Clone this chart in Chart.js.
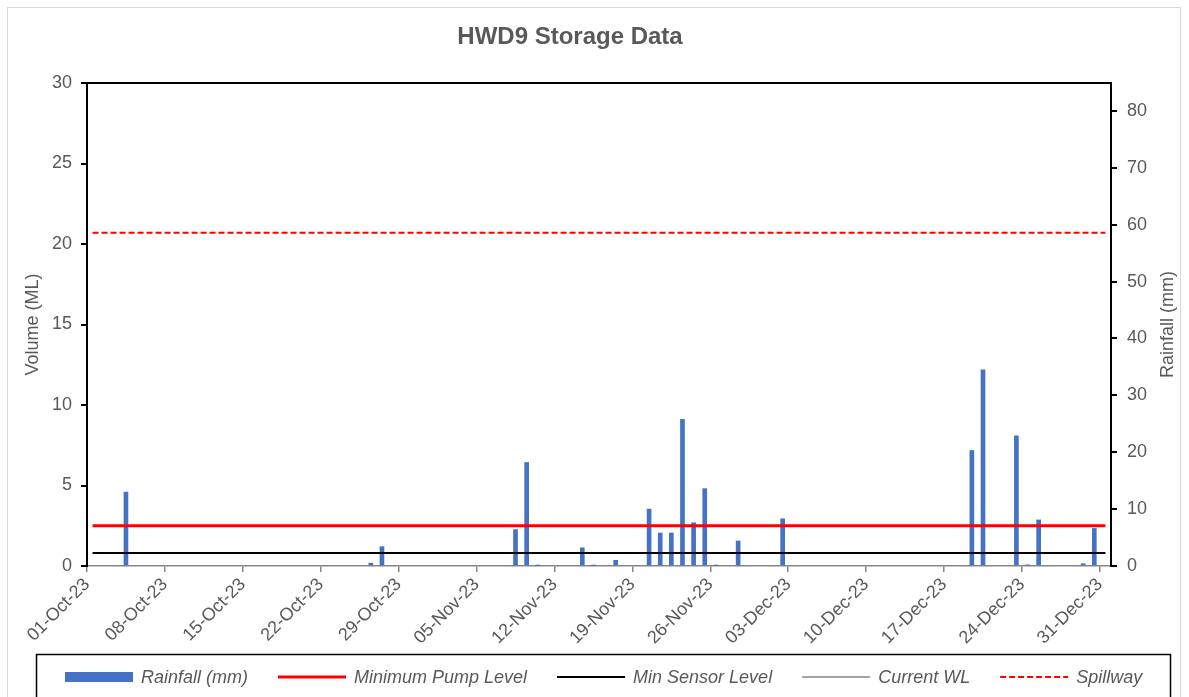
<!DOCTYPE html>
<html>
<head>
<meta charset="utf-8">
<title>HWD9 Storage Data</title>
<script src="https://cdn.jsdelivr.net/npm/chart.js@4.4.0/dist/chart.umd.min.js"></script>
<style>
  html, body { margin: 0; padding: 0; background: #fff; }
  #wrap { width: 1189px; height: 697px; }
</style>
</head>
<body>
<div id="wrap"><canvas id="myChart" width="1189" height="697"></canvas></div>
<script>
// --- data ---
const startDate = '2023-10-01';
const dayCount = 92;
const xTickLabels = ['01-Oct-23', '08-Oct-23', '15-Oct-23', '22-Oct-23', '29-Oct-23', '05-Nov-23', '12-Nov-23',
  '19-Nov-23', '26-Nov-23', '03-Dec-23', '10-Dec-23', '17-Dec-23', '24-Dec-23', '31-Dec-23'];

const rainDates = ['2023-10-04', '2023-10-26', '2023-10-27', '2023-11-08', '2023-11-09', '2023-11-10',
  '2023-11-14', '2023-11-15', '2023-11-17', '2023-11-20', '2023-11-21', '2023-11-22', '2023-11-23',
  '2023-11-24', '2023-11-25', '2023-11-26', '2023-11-28', '2023-12-02', '2023-12-19', '2023-12-20',
  '2023-12-23', '2023-12-24', '2023-12-25', '2023-12-29', '2023-12-30'];
const rainMm = [13.0, 0.5, 3.4, 6.4, 18.2, 0.1,
  3.2, 0.1, 1.0, 10.0, 5.8, 5.8, 25.8,
  7.6, 13.6, 0.1, 4.4, 8.3, 20.3, 34.5,
  22.9, 0.2, 8.1, 0.4, 6.6];

const pumpLevel = 2.5;     // ML
const sensorLevel = 0.8;   // ML
const spillwayLevel = 20.7; // ML
const currentWL = [];      // no readings shown

const volumeMax = 30;
const rainMax = 84.9;

const textGrey = '#595959';
const font = "'Liberation Sans', Arial, sans-serif";

function dayIndex(d) {
  return (Date.parse(d) - Date.parse(startDate)) / 86400000;
}
function levelLine(v) {
  return [{x: 0.5, y: v}, {x: dayCount - 0.5, y: v}];
}

const rainPoints = rainDates.map((d, i) => ({x: dayIndex(d) + 0.5, y: rainMm[i]}));

// title, frames, right axis title and legend drawn by hand to follow the Excel layout
const decor = {
  id: 'decor',
  beforeDraw(chart) {
    const ctx = chart.ctx;
    ctx.save();
    ctx.strokeStyle = '#d9d9d9';
    ctx.lineWidth = 1;
    ctx.strokeRect(7.5, 7.5, 1173, 700);
    ctx.restore();
  },
  afterDatasetsDraw(chart) {
    const ctx = chart.ctx;
    const a = chart.chartArea;
    ctx.save();
    ctx.strokeStyle = '#000';
    ctx.lineWidth = 2;
    ctx.beginPath();
    ctx.moveTo(a.left, a.top);
    ctx.lineTo(a.right, a.top);
    ctx.stroke();
    ctx.restore();
  },
  afterDraw(chart) {
    const ctx = chart.ctx;
    const a = chart.chartArea;
    ctx.save();
    // title
    ctx.fillStyle = textGrey;
    ctx.font = 'bold 24px ' + font;
    ctx.textAlign = 'center';
    ctx.textBaseline = 'middle';
    ctx.fillText('HWD9 Storage Data', 570, 37);

    // right axis title, reading bottom to top like the left one
    ctx.save();
    ctx.font = '18px ' + font;
    ctx.translate(1168, (a.top + a.bottom) / 2);
    ctx.rotate(-Math.PI / 2);
    ctx.fillText('Rainfall (mm)', 0, 0);
    ctx.restore();

    // legend box
    ctx.strokeStyle = '#000';
    ctx.lineWidth = 1.5;
    ctx.strokeRect(36.5, 654.5, 1134, 60);

    let x = 65;
    const y = 677;
    ctx.font = 'italic 18px ' + font;
    ctx.textAlign = 'left';
    chart.data.datasets.forEach(ds => {
      if (ds.type === 'bar') {
        ctx.fillStyle = ds.backgroundColor;
        ctx.fillRect(x, y - 5, 68, 10);
      } else {
        ctx.strokeStyle = ds.borderColor;
        ctx.lineWidth = ds.borderWidth;
        ctx.setLineDash(ds.borderDash || []);
        ctx.beginPath();
        ctx.moveTo(x, y);
        ctx.lineTo(x + 68, y);
        ctx.stroke();
        ctx.setLineDash([]);
      }
      x += 76;
      ctx.fillStyle = textGrey;
      ctx.fillText(ds.label, x, y + 1);
      x += ctx.measureText(ds.label).width + 30;
    });
    ctx.restore();
  }
};

const ctx = document.getElementById('myChart');
new Chart(ctx, {
  type: 'bar',
  data: {
    datasets: [
      {
        type: 'bar',
        label: 'Rainfall (mm)',
        data: rainPoints,
        yAxisID: 'y1',
        backgroundColor: '#4472C4',
        barThickness: 4,
        order: 2
      },
      {
        type: 'line',
        label: 'Minimum Pump Level',
        data: levelLine(pumpLevel),
        yAxisID: 'y',
        borderColor: '#FF0000',
        borderWidth: 3,
        pointRadius: 0,
        order: 1
      },
      {
        type: 'line',
        label: 'Min Sensor Level',
        data: levelLine(sensorLevel),
        yAxisID: 'y',
        borderColor: '#000000',
        borderWidth: 2,
        pointRadius: 0,
        order: 1
      },
      {
        type: 'line',
        label: 'Current WL',
        data: currentWL,
        yAxisID: 'y',
        borderColor: '#A5A5A5',
        borderWidth: 2,
        pointRadius: 0,
        order: 1
      },
      {
        type: 'line',
        label: 'Spillway',
        data: levelLine(spillwayLevel),
        yAxisID: 'y',
        borderColor: '#FF0000',
        borderWidth: 2,
        borderDash: [6, 3],
        pointRadius: 0,
        order: 1
      }
    ]
  },
  options: {
    responsive: false,
    animation: false,
    layout: { padding: { top: 83, left: 0, right: 0, bottom: 0 } },
    plugins: {
      legend: { display: false },
      title: { display: false },
      tooltip: { enabled: false }
    },
    scales: {
      x: {
        type: 'linear',
        min: 0,
        max: dayCount,
        offset: false,
        afterFit(s) { s.height = 131; },
        grid: { offset: false, drawOnChartArea: false, color: '#868686', tickLength: 6, lineWidth: 1.5 },
        border: { color: '#868686', width: 1.5 },
        ticks: {
          stepSize: 7,
          includeBounds: false,
          autoSkip: false,
          maxRotation: 45,
          minRotation: 45,
          padding: 2,
          color: textGrey,
          font: { family: font, size: 18 },
          callback: (v) => xTickLabels[v / 7]
        }
      },
      y: {
        position: 'left',
        min: 0,
        max: volumeMax,
        afterFit(s) { s.width = 87; },
        grid: { drawOnChartArea: false, color: '#000', tickLength: 6, lineWidth: 2 },
        border: { color: '#000', width: 2 },
        ticks: { stepSize: 5, padding: 9, color: textGrey, font: { family: font, size: 18 } },
        title: { display: true, text: 'Volume (ML)', color: textGrey, font: { family: font, size: 18 }, padding: { top: 22 } }
      },
      y1: {
        position: 'right',
        min: 0,
        max: rainMax,
        afterFit(s) { s.width = 78; },
        grid: { drawOnChartArea: false, color: '#000', tickLength: 6, lineWidth: 2 },
        border: { color: '#000', width: 2 },
        ticks: { stepSize: 10, includeBounds: false, padding: 10, color: textGrey, font: { family: font, size: 18 } }
      }
    }
  },
  plugins: [decor]
});
</script>
</body>
</html>
